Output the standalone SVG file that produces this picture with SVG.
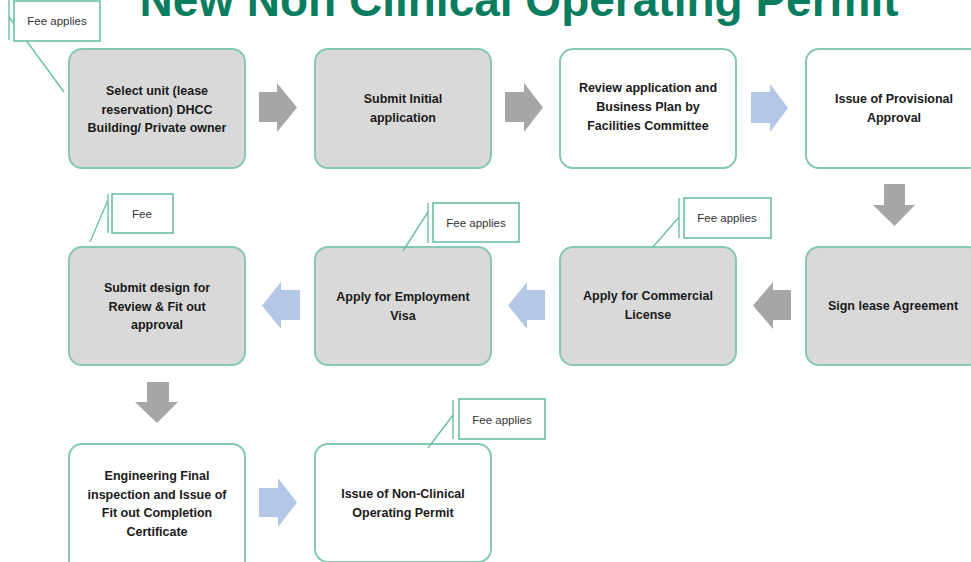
<svg xmlns="http://www.w3.org/2000/svg" width="971" height="562" viewBox="0 0 971 562">
<style>
.box{stroke:#86c8b4;stroke-width:2}
.g{fill:#d9d9d9}
.w{fill:#ffffff}
.t{font-family:"Liberation Sans",Arial,sans-serif;font-weight:bold;font-size:12.5px;fill:#1a1a1a;text-anchor:middle}
.co{fill:#fff;stroke:#6cbfa7;stroke-width:1.6}
.cl{fill:none;stroke:#6cbfa7;stroke-width:1.4}
.ct{font-family:"Liberation Sans",Arial,sans-serif;font-size:11.5px;fill:#333;text-anchor:middle}
.ag{fill:#a6a6a6}
.ab{fill:#b4c7e7}
.title{font-family:"Liberation Sans",Arial,sans-serif;font-weight:bold;font-size:46px;fill:#0a7d5e;text-anchor:middle}
</style>
<rect width="971" height="562" fill="#fff"/>
<text class="title" x="519" y="16">New Non Clinical Operating Permit</text>

<g id="connectors">
  <path class="ag" d="M259,92 H277 V83 L297,107.5 L277,132 V122 H259 Z"/>
  <path class="ag" d="M505,92 H524 V83 L543,107.5 L524,132 V122 H505 Z"/>
  <path class="ab" d="M751,92 H770 V84 L788,108 L770,132 V123 H751 Z"/>
  <path class="ag" d="M884,184 H905 V205 H915 L894.5,226 L873,205 H884 Z"/>
  <path class="ag" d="M791,290 H773 V282 L753,305.5 L773,329 V320 H791 Z"/>
  <path class="ab" d="M545,290 H527 V282 L508,305.5 L527,329 V320 H545 Z"/>
  <path class="ab" d="M300,290 H281 V282 L262,305.5 L281,329 V320 H300 Z"/>
  <path class="ag" d="M147,382 H169 V402 H178 L157,423 L135,402 H147 Z"/>
  <path class="ab" d="M259,488 H278 V478 L297,502.5 L278,527 V517 H259 Z"/>
</g>

<g id="n1"><rect class="box g" x="69" y="49" width="176" height="119" rx="13"/>
<text class="t" x="157"><tspan x="157" y="95">Select unit (lease</tspan><tspan x="157" y="113.5">reservation) DHCC</tspan><tspan x="157" y="132">Building/ Private owner</tspan></text></g>
<g id="n2"><rect class="box g" x="315" y="49" width="176" height="119" rx="13"/>
<text class="t"><tspan x="403" y="103">Submit Initial</tspan><tspan x="403" y="122">application</tspan></text></g>
<g id="n3"><rect class="box w" x="560" y="49" width="176" height="119" rx="13"/>
<text class="t"><tspan x="648" y="92">Review application and</tspan><tspan x="648" y="111">Business Plan by</tspan><tspan x="648" y="130">Facilities Committee</tspan></text></g>
<g id="n4"><rect class="box w" x="806" y="49" width="176" height="119" rx="13"/>
<text class="t"><tspan x="894" y="103">Issue of Provisional</tspan><tspan x="894" y="122">Approval</tspan></text></g>
<g id="n5"><rect class="box g" x="806" y="247" width="176" height="118" rx="13"/>
<text class="t" x="893" y="310">Sign lease Agreement</text></g>
<g id="n6"><rect class="box g" x="560" y="247" width="176" height="118" rx="13"/>
<text class="t"><tspan x="648" y="300">Apply for Commercial</tspan><tspan x="648" y="319">License</tspan></text></g>
<g id="n7"><rect class="box g" x="315" y="247" width="176" height="118" rx="13"/>
<text class="t"><tspan x="403" y="301">Apply for Employment</tspan><tspan x="403" y="320">Visa</tspan></text></g>
<g id="n8"><rect class="box g" x="69" y="247" width="176" height="118" rx="13"/>
<text class="t"><tspan x="157" y="292">Submit design for</tspan><tspan x="157" y="311">Review &amp; Fit out</tspan><tspan x="157" y="329">approval</tspan></text></g>
<g id="n9"><rect class="box w" x="69" y="444" width="176" height="130" rx="13"/>
<text class="t"><tspan x="157" y="480">Engineering Final</tspan><tspan x="157" y="498.5">inspection and Issue of</tspan><tspan x="157" y="517">Fit out Completion</tspan><tspan x="157" y="535.5">Certificate</tspan></text></g>
<g id="n10"><rect class="box w" x="315" y="444" width="176" height="118" rx="13"/>
<text class="t"><tspan x="403" y="498">Issue of Non-Clinical</tspan><tspan x="403" y="517">Operating Permit</tspan></text></g>

<g id="callout1"><path class="cl" d="M9,0 V40 M9,17 L64,92"/><rect class="co" x="14" y="1" width="86" height="40"/><text class="ct" x="57" y="25">Fee applies</text></g>
<g id="callout2"><path class="cl" d="M108,194 V233 M108,200 L90,242"/><rect class="co" x="112" y="194" width="61" height="39"/><text class="ct" x="142" y="218">Fee</text></g>
<g id="callout3"><path class="cl" d="M428,203 V243 M428,212 L403,251"/><rect class="co" x="433" y="203" width="86" height="39"/><text class="ct" x="476" y="227">Fee applies</text></g>
<g id="callout4"><path class="cl" d="M679,198 V238 M679,217 L653,247"/><rect class="co" x="684" y="198" width="87" height="40"/><text class="ct" x="727" y="222">Fee applies</text></g>
<g id="callout5"><path class="cl" d="M453,400 V439 M453,415 L428,448"/><rect class="co" x="459" y="399" width="86" height="40"/><text class="ct" x="502" y="424">Fee applies</text></g>
</svg>
